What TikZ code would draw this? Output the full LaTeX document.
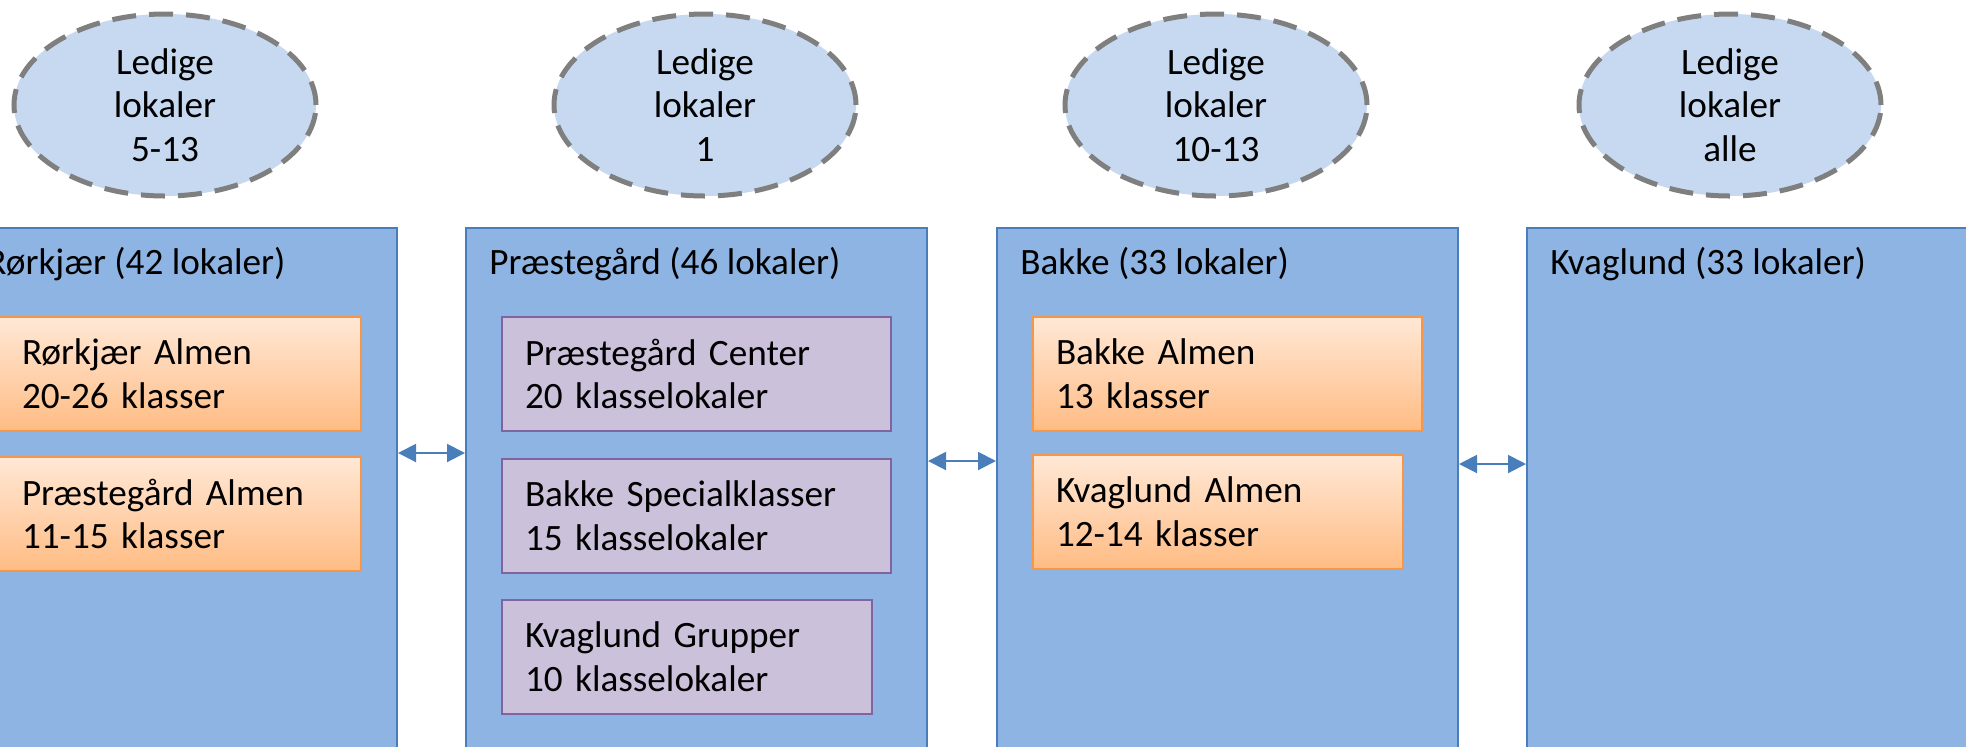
\documentclass[tikz,border=0pt]{standalone}
\usepackage{fontspec}
\setmainfont{Carlito}
\usetikzlibrary{shapes.geometric,arrows.meta}

\definecolor{skolefill}{HTML}{8EB4E3}
\definecolor{skoleline}{HTML}{4A7EBB}
\definecolor{ledigfill}{HTML}{C6D9F1}
\definecolor{ledigline}{HTML}{7F7F7F}
\definecolor{almenline}{HTML}{F79646}
\definecolor{almentop}{HTML}{FFE8D6}
\definecolor{almenbot}{HTML}{FFBC84}
\definecolor{specfill}{HTML}{CCC1DA}
\definecolor{specline}{HTML}{8064A2}

\tikzset{
  skole/.style={draw=skoleline, fill=skolefill, line width=1pt, minimum width=#1,
    minimum height=280pt, inner sep=0pt, anchor=north west},
  skole/.default=230.5pt,
  titel/.style={anchor=base west, inner sep=0pt},
  ledig/.style={ellipse, draw=ledigline, fill=ledigfill, line width=2.5pt,
    dash pattern=on 12pt off 6.5pt, minimum width=151pt, minimum height=91pt,
    inner sep=0pt, align=center},
  boks/.style={line width=1pt, text width=#1, inner xsep=11.5pt, inner ysep=0pt,
    minimum height=57pt, align=left, anchor=north west},
  boks/.default=171.5pt,
  almen/.style={boks=#1, draw=almenline, top color=almentop, bottom color=almenbot},
  almen/.default=171.5pt,
  special/.style={boks=#1, draw=specline, fill=specfill},
  special/.default=171.5pt,
  pil/.style={{Triangle[length=9pt,width=9pt]}-{Triangle[length=9pt,width=9pt]},
    draw=skoleline, line width=1pt}
}

\begin{document}
\begin{tikzpicture}[x=0.5pt,y=-0.5pt,every node/.style={font=\fontsize{18.6}{21.8}\selectfont}]
\useasboundingbox (0,0) rectangle (1966,746);
\clip (0,0) rectangle (1966,746);

\coordinate (R) at (-38,227);
\coordinate (P) at (465,227);
\coordinate (B) at (996,227);
\coordinate (K) at (1526,227);

\node[skole=217pt] (rorkjaer) at (R) {};
\node[skole] (praeste) at (P) {};
\node[skole] (bakke) at (B) {};
\node[skole] (kvaglund) at (K) {};

\node[titel] (rorkjaertitel) at ([xshift=12pt,yshift=-23.5pt]rorkjaer.north west) {Rørkjær (42 lokaler)};
\node[titel] (praestetitel) at ([xshift=12pt,yshift=-23.5pt]praeste.north west) {Præstegård (46 lokaler)};
\node[titel] (bakketitel) at ([xshift=12pt,yshift=-23.5pt]bakke.north west) {Bakke (33 lokaler)};
\node[titel] (kvaglundtitel) at ([xshift=12pt,yshift=-23.5pt]kvaglund.north west) {Kvaglund (33 lokaler)};

\node[ledig] (ledigR) at (165,105) {Ledige\\lokaler\\5-13};
\node[ledig] (ledigP) at (705,105) {Ledige\\lokaler\\1};
\node[ledig] (ledigB) at (1216,105) {Ledige\\lokaler\\10-13};
\node[ledig] (ledigK) at (1730,105) {Ledige\\lokaler\\alle};

\node[almen=158pt] (rorkjaeralmen) at (-2,316) {Rørkjær Almen\\20-26 klasser};
\node[almen=158pt] (praestealmen) at (-2,456) {Præstegård Almen\\11-15 klasser};
\node[special] (praestecenter) at (501,316) {Præstegård Center\\20 klasselokaler};
\node[special] (bakkespecial) at (501,458) {Bakke Specialklasser\\15 klasselokaler};
\node[special=162pt] (kvaglundgrupper) at (501,599) {Kvaglund Grupper\\10 klasselokaler};
\node[almen] (bakkealmen) at (1032,316) {Bakke Almen\\13 klasser};
\node[almen=162pt] (kvaglundalmen) at (1032,454) {Kvaglund Almen\\12-14 klasser};

\draw[pil] ([yshift=27.5pt]rorkjaer.east) -- ([yshift=27.5pt]praeste.west);
\draw[pil] ([yshift=23.5pt]praeste.east) -- ([yshift=23.5pt]bakke.west);
\draw[pil] ([yshift=22pt]bakke.east) -- ([yshift=22pt]kvaglund.west);
\end{tikzpicture}
\end{document}
